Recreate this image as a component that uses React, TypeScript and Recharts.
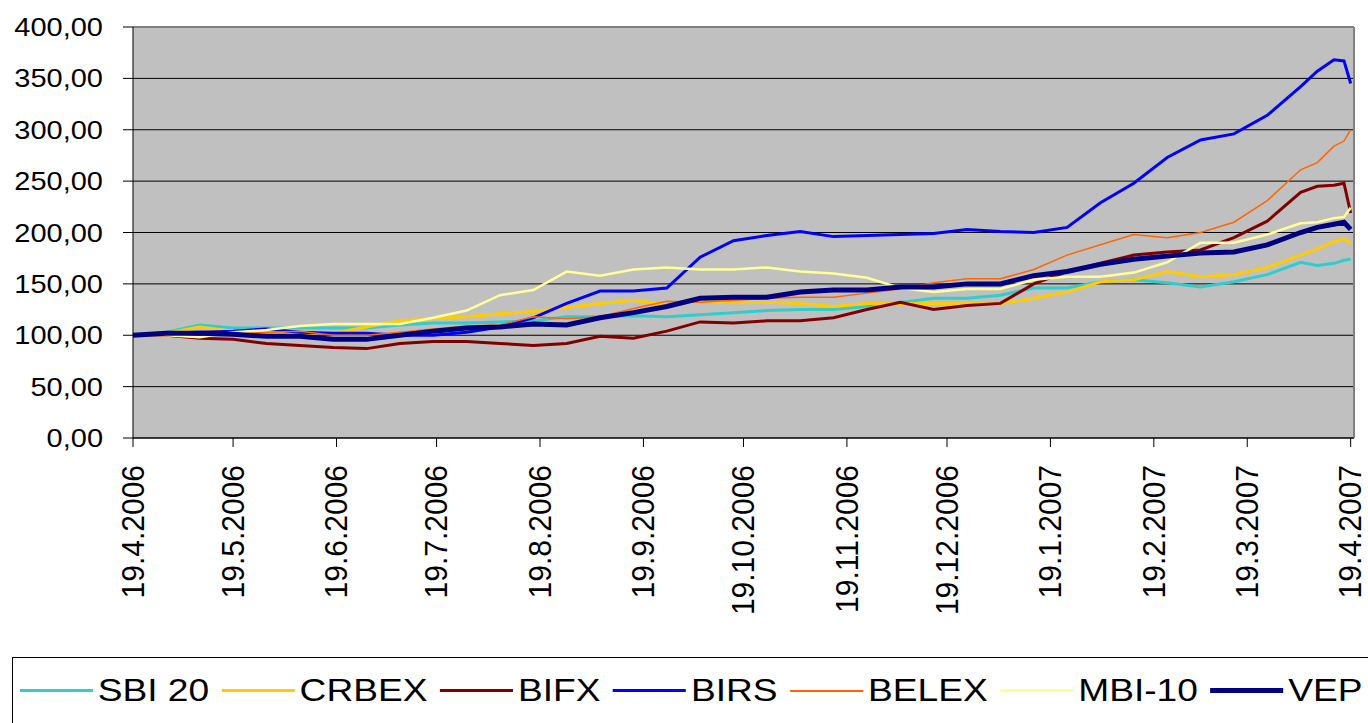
import React from 'react';
import { LineChart, Line, XAxis, YAxis, CartesianGrid, Legend, ReferenceLine } from 'recharts';

// Day offsets from 19.4.2006
const days = [0, 10, 20, 30, 40, 50, 60, 70, 80, 90, 100, 110, 120, 130, 140, 150, 160, 170, 180, 190, 200, 210, 220, 230, 240, 250, 260, 270, 280, 290, 300, 310, 320, 330, 340, 350, 355, 360, 363, 365];

const tickDays = [0, 30, 61, 91, 122, 153, 183, 214, 244, 275, 306, 334, 365];
const tickLabels = ['19.4.2006', '19.5.2006', '19.6.2006', '19.7.2006', '19.8.2006', '19.9.2006', '19.10.2006', '19.11.2006', '19.12.2006', '19.1.2007', '19.2.2007', '19.3.2007', '19.4.2007'];
const yTicks = [0, 50, 100, 150, 200, 250, 300, 350, 400];

const sbi20 = [100, 103, 110, 107, 107, 107, 107, 107, 110, 112, 112, 113, 114, 118, 118, 119, 118, 120, 122, 124, 125, 125, 128, 132, 136, 136, 139, 146, 146, 152, 154, 151, 147, 152, 159, 171, 168, 170, 173, 174];
const crbex = [100, 102, 108, 104, 102, 102, 102, 108, 114, 116, 118, 121, 123, 127, 131, 134, 130, 133, 132, 132, 131, 128, 131, 131, 131, 131, 131, 136, 142, 152, 154, 162, 157, 159, 166, 178, 184, 191, 194, 189];
const bifx = [100, 100, 97, 96, 92, 90, 88, 87, 92, 94, 94, 92, 90, 92, 99, 97, 104, 113, 112, 114, 114, 117, 125, 132, 125, 129, 131, 150, 162, 170, 178, 181, 183, 195, 211, 239, 245, 246, 248, 219];
const birs = [100, 102, 103, 104, 106, 103, 102, 102, 100, 100, 103, 108, 117, 131, 143, 143, 146, 176, 192, 197, 201, 196, 197, 198, 199, 203, 201, 200, 205, 229, 248, 273, 290, 296, 314, 342, 357, 368, 367, 345];
const belex = [100, 102, 102, 102, 103, 104, 100, 100, 103, 106, 109, 110, 118, 116, 118, 126, 133, 132, 134, 136, 137, 137, 141, 145, 151, 155, 155, 164, 178, 188, 198, 195, 200, 210, 231, 261, 268, 284, 289, 300];
const mbi10 = [100, 100, 98, 103, 105, 109, 111, 111, 111, 117, 124, 139, 144, 162, 158, 164, 166, 164, 164, 166, 162, 160, 156, 146, 142, 145, 145, 154, 157, 157, 161, 171, 190, 190, 198, 209, 210, 214, 215, 224];
const vep = [100, 102, 102, 101, 99, 99, 96, 96, 100, 104, 107, 108, 111, 110, 117, 122, 128, 136, 137, 137, 142, 144, 144, 147, 147, 150, 150, 158, 162, 169, 174, 177, 180, 181, 188, 200, 205, 208, 210, 203];

const seriesKeys = ['sbi20', 'crbex', 'bifx', 'birs', 'belex', 'mbi10', 'vep'];
const seriesNames = ['SBI 20', 'CRBEX', 'BIFX', 'BIRS', 'BELEX', 'MBI-10', 'VEP'];
const seriesColors = ['#33CCCC', '#FFCC00', '#800000', '#0000FF', '#FF6600', '#FFFF99', '#000080'];
const seriesWidths = [3, 3, 3, 3, 1.5, 2.5, 5];
const seriesValues = [sbi20, crbex, bifx, birs, belex, mbi10, vep];

const data = days.map((d, i) => {
  const row: Record<string, number> = { day: d };
  seriesKeys.forEach((k, s) => {
    row[k] = seriesValues[s][i];
  });
  return row;
});

const FONT = '"Liberation Sans", Arial, sans-serif';
const SX = 1.16;

const fmt = (v: number) => v.toFixed(2).replace('.', ',');

const YTick = (props: any) => {
  const { x, y, payload } = props;
  return (
    <text
      transform={`translate(${x},${y}) scale(${SX},1)`}
      textAnchor="end"
      dy="0.36em"
      fontSize={25}
      fontFamily={FONT}
      fill="#000"
    >
      {fmt(payload.value)}
    </text>
  );
};

const XTick = (props: any) => {
  const { x, y, payload } = props;
  const idx = tickDays.indexOf(payload.value);
  return (
    <text
      transform={`translate(${x},${y}) scale(1.06,1) rotate(-90)`}
      textAnchor="end"
      dy="0.34em"
      fontSize={30}
      fontFamily={FONT}
      fill="#000"
    >
      {idx >= 0 ? tickLabels[idx] : ''}
    </text>
  );
};

const renderLegend = () => (
  <div
    style={{
      height: 66,
      borderTop: '1px solid #000',
      borderLeft: '1px solid #000',
      boxSizing: 'border-box',
      overflow: 'hidden',
      background: '#fff',
    }}
  >
    <div
      style={{
        display: 'flex',
        alignItems: 'center',
        height: '100%',
        transform: `scaleX(${SX})`,
        transformOrigin: 'left center',
        paddingLeft: 6,
        whiteSpace: 'nowrap',
        fontFamily: FONT,
        fontSize: 32,
        color: '#000',
      }}
    >
      {seriesNames.map((n, i) => (
        <div key={n} style={{ display: 'flex', alignItems: 'center', marginRight: 11, flexShrink: 0 }}>
          <div
            style={{
              width: 63,
              height: seriesWidths[i] < 2 ? 2 : seriesWidths[i] >= 5 ? 5 : 3,
              background: seriesColors[i],
              marginRight: 4,
            }}
          />
          <span>{n}</span>
        </div>
      ))}
    </div>
  </div>
);

export default function App() {
  return (
    <div style={{ position: 'absolute', left: 0, top: 0, width: 1368, height: 723, background: '#fff', overflow: 'hidden' }}>
      <LineChart
        width={1368}
        height={723}
        data={data}
        margin={{ top: 27, right: 14, bottom: 0, left: 0 }}
      >
        <CartesianGrid vertical={false} stroke="#000" fill="#C0C0C0" />
        <XAxis
          dataKey="day"
          type="number"
          domain={[0, 366]}
          ticks={tickDays}
          interval={0}
          height={219}
          tickSize={9}
          tickMargin={18}
          axisLine={{ stroke: '#000' }}
          tickLine={{ stroke: '#000' }}
          tick={<XTick />}
        />
        <YAxis
          type="number"
          domain={[0, 400]}
          ticks={yTicks}
          interval={0}
          width={133}
          tickSize={10}
          tickMargin={20}
          axisLine={{ stroke: '#000' }}
          tickLine={{ stroke: '#000' }}
          tick={<YTick />}
        />
        <ReferenceLine y={400} stroke="#808080" strokeWidth={2} />
        <ReferenceLine x={366} stroke="#808080" strokeWidth={2} />
        {seriesKeys.map((k, i) => (
          <Line
            key={k}
            type="linear"
            dataKey={k}
            name={seriesNames[i]}
            stroke={seriesColors[i]}
            strokeWidth={seriesWidths[i]}
            dot={false}
            activeDot={false}
            isAnimationActive={false}
          />
        ))}
        <Legend
          verticalAlign="bottom"
          align="left"
          height={66}
          content={renderLegend}
          wrapperStyle={{ left: 12, width: 1356, height: 66, bottom: 0 }}
        />
      </LineChart>
    </div>
  );
}
